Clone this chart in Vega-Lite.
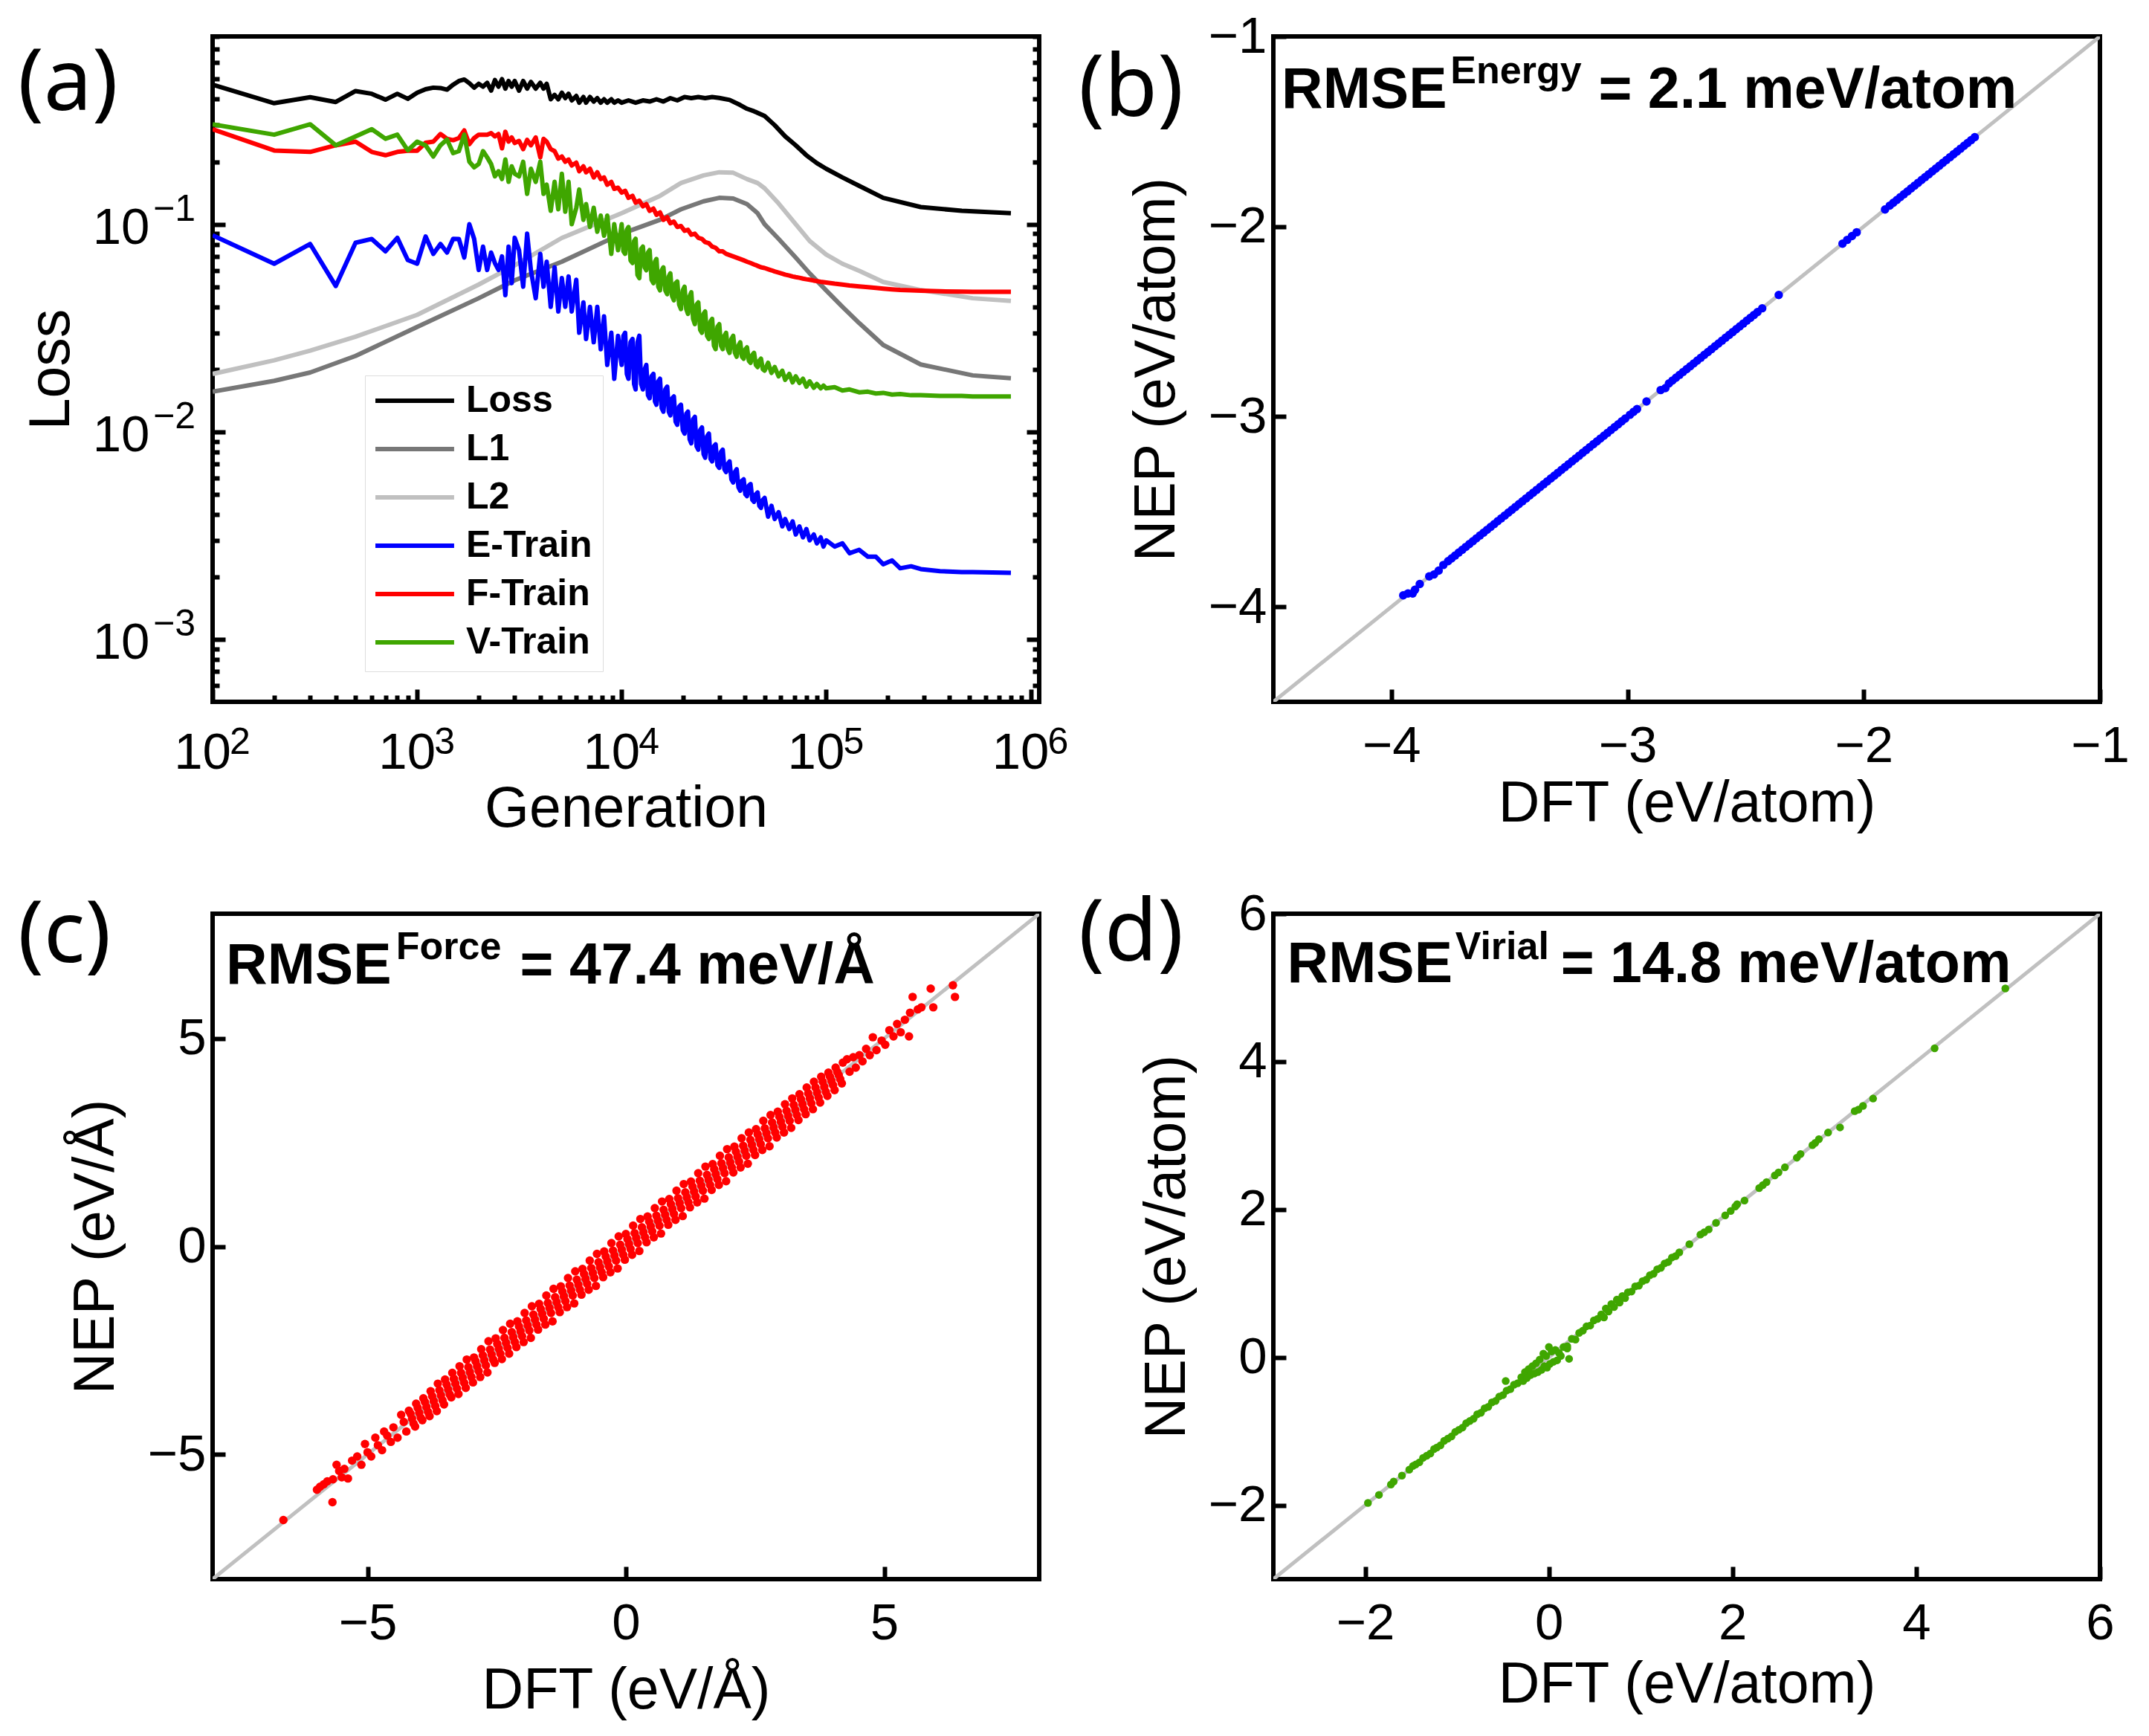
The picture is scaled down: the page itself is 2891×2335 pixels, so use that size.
{
  "$schema": "https://vega.github.io/schema/vega-lite/v6.json",
  "description": "Training loss curves and DFT vs NEP parity plots for energy, force and virial.",
  "background": "white",
  "padding": {"left": 21, "top": 12, "right": 10, "bottom": 10},
  "spacing": 1180,
  "bounds": "flush",
  "config": {
    "font": "Liberation Sans",
    "view": {"stroke": "black", "strokeWidth": 6},
    "axis": {"grid": false, "domain": false, "tickColor": "black", "tickWidth": 6, "tickSize": -17, "labelColor": "black", "labelFontSize": 69, "labelPadding": 26, "labelFlush": false, "labelOverlap": false, "labelBound": false, "titleColor": "black", "titleFontSize": 77, "titleFontWeight": "normal", "titleBaseline": "alphabetic"},
    "title": {"font": "Noto Sans", "fontSize": 116, "fontWeight": "normal", "color": "black", "anchor": "start", "frame": "group", "baseline": "alphabetic", "offset": 0}
  },
  "datasets": {
    "training": [
      {"gen":100,"Loss":0.47,"L1":0.0156,"L2":0.019,"E-Train":0.0884,"F-Train":0.287,"V-Train":0.303},
      {"gen":200,"Loss":0.383,"L1":0.0176,"L2":0.0221,"E-Train":0.0645,"F-Train":0.2265,"V-Train":0.27},
      {"gen":300,"Loss":0.409,"L1":0.0193,"L2":0.0246,"E-Train":0.0803,"F-Train":0.223,"V-Train":0.303},
      {"gen":400,"Loss":0.388,"E-Train":0.0504,"F-Train":0.24,"V-Train":0.24},
      {"gen":500,"Loss":0.438,"L1":0.0232,"L2":0.0287,"E-Train":0.0814,"F-Train":0.25,"V-Train":0.265},
      {"gen":600,"Loss":0.425,"E-Train":0.0849,"F-Train":0.223,"V-Train":0.287},
      {"gen":700,"Loss":0.398,"E-Train":0.074,"F-Train":0.215,"V-Train":0.258},
      {"gen":800,"Loss":0.425,"E-Train":0.086,"F-Train":0.223,"V-Train":0.27},
      {"gen":900,"Loss":0.402,"E-Train":0.0672,"F-Train":0.226,"V-Train":0.227},
      {"gen":1000,"Loss":0.43,"L1":0.032,"L2":0.0366,"E-Train":0.0645,"F-Train":0.226,"V-Train":0.25},
      {"gen":1100,"Loss":0.447,"E-Train":0.0873,"F-Train":0.247,"V-Train":0.24},
      {"gen":1200,"Loss":0.455,"E-Train":0.072,"F-Train":0.25,"V-Train":0.212},
      {"gen":1300,"Loss":0.453,"E-Train":0.0803,"F-Train":0.272,"V-Train":0.24},
      {"gen":1400,"Loss":0.445,"E-Train":0.073,"F-Train":0.258,"V-Train":0.256},
      {"gen":1500,"Loss":0.47,"E-Train":0.085,"F-Train":0.254,"V-Train":0.22},
      {"gen":1600,"Loss":0.49,"E-Train":0.0849,"F-Train":0.26,"V-Train":0.225},
      {"gen":1700,"Loss":0.498,"E-Train":0.0691,"F-Train":0.283,"V-Train":0.27},
      {"gen":1800,"Loss":0.478,"E-Train":0.1,"F-Train":0.243,"V-Train":0.2},
      {"gen":1900,"Loss":0.455,"E-Train":0.085,"F-Train":0.26,"V-Train":0.188},
      {"gen":2000,"Loss":0.475,"L1":0.044,"L2":0.0512,"E-Train":0.0602,"F-Train":0.27,"V-Train":0.195},
      {"gen":2100,"Loss":0.46,"E-Train":0.078,"F-Train":0.27,"V-Train":0.225},
      {"gen":2200,"Loss":0.48,"E-Train":0.0602,"F-Train":0.27,"V-Train":0.21},
      {"gen":2300,"Loss":0.44,"E-Train":0.073,"F-Train":0.275,"V-Train":0.195},
      {"gen":2400,"Loss":0.495,"E-Train":0.065,"F-Train":0.265,"V-Train":0.17},
      {"gen":2500,"Loss":0.46,"E-Train":0.0602,"F-Train":0.272,"V-Train":0.18},
      {"gen":2600,"Loss":0.5,"E-Train":0.07,"F-Train":0.232,"V-Train":0.165},
      {"gen":2700,"Loss":0.45,"E-Train":0.0455,"F-Train":0.279,"V-Train":0.205},
      {"gen":2800,"Loss":0.49,"E-Train":0.078,"F-Train":0.25,"V-Train":0.16},
      {"gen":2900,"Loss":0.46,"E-Train":0.052,"F-Train":0.262,"V-Train":0.19},
      {"gen":3000,"Loss":0.49,"L1":0.0537,"L2":0.0634,"E-Train":0.086,"F-Train":0.246,"V-Train":0.175},
      {"gen":3150,"Loss":0.44,"E-Train":0.075,"F-Train":0.252,"V-Train":0.17},
      {"gen":3300,"Loss":0.49,"E-Train":0.05,"F-Train":0.23,"V-Train":0.2},
      {"gen":3450,"Loss":0.45,"E-Train":0.09,"F-Train":0.255,"V-Train":0.14},
      {"gen":3600,"Loss":0.485,"E-Train":0.06,"F-Train":0.24,"V-Train":0.185},
      {"gen":3800,"Loss":0.45,"E-Train":0.044,"F-Train":0.262,"V-Train":0.16},
      {"gen":4000,"Loss":0.48,"E-Train":0.072,"F-Train":0.21,"V-Train":0.2},
      {"gen":4150,"Loss":0.45,"E-Train":0.05,"F-Train":0.258,"V-Train":0.14},
      {"gen":4300,"Loss":0.475,"E-Train":0.066,"F-Train":0.25,"V-Train":0.155},
      {"gen":4500,"Loss":0.4,"E-Train":0.04,"F-Train":0.23,"V-Train":0.116},
      {"gen":4700,"Loss":0.42,"E-Train":0.062,"F-Train":0.225,"V-Train":0.16},
      {"gen":4900,"Loss":0.4,"E-Train":0.038,"F-Train":0.207,"V-Train":0.118},
      {"gen":5100,"Loss":0.43,"L1":0.066,"L2":0.0859,"E-Train":0.055,"F-Train":0.212,"V-Train":0.175},
      {"gen":5300,"Loss":0.405,"E-Train":0.04,"F-Train":0.2,"V-Train":0.115},
      {"gen":5500,"Loss":0.425,"E-Train":0.056,"F-Train":0.205,"V-Train":0.16},
      {"gen":5700,"Loss":0.395,"E-Train":0.038,"F-Train":0.192,"V-Train":0.1},
      {"gen":6000,"Loss":0.415,"E-Train":0.054,"F-Train":0.198,"V-Train":0.12},
      {"gen":6200,"Loss":0.385,"E-Train":0.03,"F-Train":0.18,"V-Train":0.147},
      {"gen":6500,"Loss":0.41,"E-Train":0.042,"F-Train":0.19,"V-Train":0.105},
      {"gen":6700,"Loss":0.385,"E-Train":0.028,"F-Train":0.178,"V-Train":0.125},
      {"gen":7000,"Loss":0.41,"E-Train":0.04,"F-Train":0.185,"V-Train":0.097},
      {"gen":7300,"Loss":0.39,"E-Train":0.027,"F-Train":0.168,"V-Train":0.12},
      {"gen":7600,"Loss":0.405,"E-Train":0.04,"F-Train":0.178,"V-Train":0.092},
      {"gen":7900,"Loss":0.385,"E-Train":0.025,"F-Train":0.165,"V-Train":0.11},
      {"gen":8200,"Loss":0.4,"E-Train":0.036,"F-Train":0.168,"V-Train":0.088},
      {"gen":8500,"Loss":0.385,"E-Train":0.021,"F-Train":0.155,"V-Train":0.11},
      {"gen":8900,"Loss":0.4,"E-Train":0.03,"F-Train":0.16,"V-Train":0.072},
      {"gen":9200,"Loss":0.385,"E-Train":0.018,"F-Train":0.148,"V-Train":0.1},
      {"gen":9600,"Loss":0.395,"E-Train":0.029,"F-Train":0.15,"V-Train":0.075},
      {"gen":10000,"Loss":0.385,"L1":0.09,"L2":0.113,"E-Train":0.021,"F-Train":0.142,"V-Train":0.1},
      {"gen":10200,"E-Train":0.029,"V-Train":0.074},
      {"gen":10400,"E-Train":0.03,"F-Train":0.145,"V-Train":0.072},
      {"gen":10600,"E-Train":0.019,"V-Train":0.094},
      {"gen":10800,"Loss":0.395,"E-Train":0.018,"F-Train":0.134,"V-Train":0.097},
      {"gen":11050,"E-Train":0.027,"V-Train":0.067},
      {"gen":11300,"E-Train":0.028,"F-Train":0.137,"V-Train":0.065},
      {"gen":11500,"E-Train":0.017,"V-Train":0.083},
      {"gen":11700,"Loss":0.385,"E-Train":0.016,"F-Train":0.127,"V-Train":0.085},
      {"gen":11950,"E-Train":0.027,"V-Train":0.057},
      {"gen":12200,"E-Train":0.029,"F-Train":0.13,"V-Train":0.055},
      {"gen":12450,"E-Train":0.017,"V-Train":0.076},
      {"gen":12700,"Loss":0.395,"E-Train":0.016,"F-Train":0.122,"V-Train":0.078},
      {"gen":12950,"E-Train":0.02,"V-Train":0.062},
      {"gen":13200,"E-Train":0.021,"F-Train":0.125,"V-Train":0.06},
      {"gen":13450,"E-Train":0.015,"V-Train":0.073},
      {"gen":13700,"Loss":0.39,"E-Train":0.0145,"F-Train":0.116,"V-Train":0.075},
      {"gen":14000,"E-Train":0.0185,"V-Train":0.054},
      {"gen":14300,"E-Train":0.019,"F-Train":0.119,"V-Train":0.052},
      {"gen":14550,"E-Train":0.014,"V-Train":0.066},
      {"gen":14800,"Loss":0.4,"E-Train":0.0135,"F-Train":0.111,"V-Train":0.068},
      {"gen":15100,"E-Train":0.0175,"V-Train":0.05},
      {"gen":15400,"L1":0.105,"L2":0.137,"E-Train":0.018,"F-Train":0.114,"V-Train":0.048},
      {"gen":15700,"E-Train":0.013,"V-Train":0.06},
      {"gen":16000,"Loss":0.39,"E-Train":0.0125,"F-Train":0.105,"V-Train":0.062},
      {"gen":16350,"E-Train":0.016,"V-Train":0.048},
      {"gen":16700,"E-Train":0.0165,"F-Train":0.108,"V-Train":0.046},
      {"gen":17000,"E-Train":0.0125,"V-Train":0.056},
      {"gen":17300,"Loss":0.405,"E-Train":0.012,"F-Train":0.101,"V-Train":0.058},
      {"gen":17650,"E-Train":0.0145,"V-Train":0.045},
      {"gen":18000,"E-Train":0.0148,"F-Train":0.103,"V-Train":0.043},
      {"gen":18350,"E-Train":0.0112,"V-Train":0.052},
      {"gen":18700,"Loss":0.395,"E-Train":0.0108,"F-Train":0.097,"V-Train":0.053},
      {"gen":19100,"E-Train":0.0132,"V-Train":0.041},
      {"gen":19500,"L1":0.118,"L2":0.158,"E-Train":0.0135,"F-Train":0.098,"V-Train":0.039},
      {"gen":19900,"E-Train":0.0102,"V-Train":0.048},
      {"gen":20300,"Loss":0.41,"E-Train":0.0098,"F-Train":0.093,"V-Train":0.05},
      {"gen":20700,"E-Train":0.0122,"V-Train":0.039},
      {"gen":21100,"E-Train":0.0125,"F-Train":0.094,"V-Train":0.037},
      {"gen":21500,"E-Train":0.0092,"V-Train":0.045},
      {"gen":21900,"Loss":0.405,"E-Train":0.0088,"F-Train":0.089,"V-Train":0.047},
      {"gen":22350,"E-Train":0.0115,"V-Train":0.035},
      {"gen":22800,"E-Train":0.0118,"F-Train":0.09,"V-Train":0.033},
      {"gen":23250,"E-Train":0.0085,"V-Train":0.041},
      {"gen":23700,"Loss":0.41,"E-Train":0.0082,"F-Train":0.086,"V-Train":0.042},
      {"gen":24200,"E-Train":0.0102,"V-Train":0.031},
      {"gen":24700,"E-Train":0.0105,"F-Train":0.085,"V-Train":0.03},
      {"gen":25150,"L1":0.129,"L2":0.172,"E-Train":0.0078,"V-Train":0.037},
      {"gen":25600,"Loss":0.405,"E-Train":0.0075,"F-Train":0.082,"V-Train":0.038},
      {"gen":26150,"E-Train":0.0095,"V-Train":0.029},
      {"gen":26700,"E-Train":0.0098,"F-Train":0.081,"V-Train":0.028},
      {"gen":27200,"E-Train":0.0074,"V-Train":0.034},
      {"gen":27700,"Loss":0.41,"E-Train":0.0072,"F-Train":0.078,"V-Train":0.035},
      {"gen":28250,"E-Train":0.0085,"V-Train":0.026},
      {"gen":28800,"E-Train":0.0087,"F-Train":0.077,"V-Train":0.025},
      {"gen":29400,"E-Train":0.0069,"V-Train":0.032},
      {"gen":30000,"Loss":0.406,"L1":0.134,"L2":0.178,"E-Train":0.0067,"F-Train":0.074,"V-Train":0.033},
      {"gen":30600,"E-Train":0.008,"V-Train":0.026},
      {"gen":31200,"E-Train":0.0082,"F-Train":0.074,"V-Train":0.025},
      {"gen":31800,"E-Train":0.0066,"V-Train":0.029},
      {"gen":32400,"E-Train":0.0064,"F-Train":0.072,"V-Train":0.03},
      {"gen":33050,"E-Train":0.007,"V-Train":0.025},
      {"gen":33700,"Loss":0.397,"E-Train":0.0072,"F-Train":0.071,"V-Train":0.024},
      {"gen":34400,"E-Train":0.0059,"V-Train":0.028},
      {"gen":35100,"L1":0.133,"L2":0.177,"E-Train":0.0057,"F-Train":0.07,"V-Train":0.029},
      {"gen":35800,"E-Train":0.0064,"V-Train":0.024},
      {"gen":36500,"E-Train":0.0066,"F-Train":0.069,"V-Train":0.023},
      {"gen":37250,"E-Train":0.0054,"V-Train":0.026},
      {"gen":38000,"Loss":0.375,"E-Train":0.0052,"F-Train":0.068,"V-Train":0.027},
      {"gen":38750,"E-Train":0.0058,"V-Train":0.023},
      {"gen":39500,"E-Train":0.0059,"F-Train":0.067,"V-Train":0.0225},
      {"gen":40250,"E-Train":0.005,"V-Train":0.025},
      {"gen":41000,"Loss":0.36,"L1":0.125,"L2":0.165,"E-Train":0.0049,"F-Train":0.066,"V-Train":0.0255},
      {"gen":41850,"E-Train":0.0055,"V-Train":0.022},
      {"gen":42700,"E-Train":0.0056,"F-Train":0.065,"V-Train":0.0215},
      {"gen":43550,"E-Train":0.0047,"V-Train":0.0235},
      {"gen":44400,"Loss":0.35,"E-Train":0.0046,"F-Train":0.064,"V-Train":0.024},
      {"gen":45300,"E-Train":0.005,"V-Train":0.021},
      {"gen":46200,"L1":0.113,"L2":0.158,"E-Train":0.0051,"F-Train":0.063,"V-Train":0.0205},
      {"gen":47100,"E-Train":0.0044,"V-Train":0.022},
      {"gen":48000,"E-Train":0.0043,"F-Train":0.062,"V-Train":0.0225},
      {"gen":49000,"E-Train":0.0047,"V-Train":0.02},
      {"gen":50000,"Loss":0.332,"L1":0.1,"L2":0.149,"E-Train":0.0048,"F-Train":0.0615,"V-Train":0.0197},
      {"gen":52000,"E-Train":0.0039,"F-Train":0.0607,"V-Train":0.0215},
      {"gen":54000,"E-Train":0.0044,"F-Train":0.06,"V-Train":0.0192},
      {"gen":56000,"Loss":0.3,"E-Train":0.0038,"F-Train":0.0592,"V-Train":0.0205},
      {"gen":58500,"L1":0.085,"L2":0.126,"E-Train":0.0041,"F-Train":0.0585,"V-Train":0.0185},
      {"gen":61000,"E-Train":0.0035,"F-Train":0.0578,"V-Train":0.0197},
      {"gen":63000,"Loss":0.265,"E-Train":0.0038,"F-Train":0.0572,"V-Train":0.0178},
      {"gen":66000,"E-Train":0.0034,"F-Train":0.0566,"V-Train":0.019},
      {"gen":68500,"E-Train":0.0037,"F-Train":0.056,"V-Train":0.0173},
      {"gen":71000,"Loss":0.24,"L1":0.069,"L2":0.1,"E-Train":0.0032,"F-Train":0.0556,"V-Train":0.0185},
      {"gen":74000,"E-Train":0.0035,"F-Train":0.0552,"V-Train":0.0172},
      {"gen":77000,"E-Train":0.0031,"F-Train":0.0547,"V-Train":0.018},
      {"gen":80000,"Loss":0.215,"E-Train":0.0034,"F-Train":0.0543,"V-Train":0.0165},
      {"gen":83000,"L1":0.058,"L2":0.083,"E-Train":0.003,"F-Train":0.054,"V-Train":0.0175},
      {"gen":87000,"E-Train":0.0032,"F-Train":0.0535,"V-Train":0.0163},
      {"gen":90000,"Loss":0.197,"E-Train":0.0029,"F-Train":0.0532,"V-Train":0.017},
      {"gen":94000,"E-Train":0.0031,"F-Train":0.0528,"V-Train":0.0162},
      {"gen":97000,"E-Train":0.0028,"F-Train":0.0526,"V-Train":0.0167},
      {"gen":100000,"Loss":0.185,"L1":0.048,"L2":0.0714,"E-Train":0.003,"F-Train":0.0524,"V-Train":0.0162},
      {"gen":110000,"E-Train":0.0028,"F-Train":0.0517,"V-Train":0.0164},
      {"gen":120000,"Loss":0.168,"L1":0.04,"L2":0.0645,"E-Train":0.0029,"F-Train":0.0512,"V-Train":0.0158},
      {"gen":130000,"E-Train":0.0026,"F-Train":0.0507,"V-Train":0.016},
      {"gen":145000,"Loss":0.153,"L1":0.0334,"L2":0.0596,"E-Train":0.0027,"F-Train":0.0502,"V-Train":0.0155},
      {"gen":160000,"E-Train":0.0025,"F-Train":0.0497,"V-Train":0.0156},
      {"gen":175000,"E-Train":0.0025,"F-Train":0.0493,"V-Train":0.0153},
      {"gen":190000,"Loss":0.134,"L1":0.0262,"L2":0.0527,"E-Train":0.0023,"F-Train":0.0489,"V-Train":0.0154},
      {"gen":210000,"E-Train":0.0024,"F-Train":0.0485,"V-Train":0.0151},
      {"gen":230000,"E-Train":0.0022,"F-Train":0.0482,"V-Train":0.0152},
      {"gen":260000,"E-Train":0.00225,"F-Train":0.048,"V-Train":0.015},
      {"gen":290000,"Loss":0.121,"L1":0.0211,"L2":0.0482,"E-Train":0.00218,"F-Train":0.0478,"V-Train":0.015},
      {"gen":360000,"E-Train":0.00213,"F-Train":0.0475,"V-Train":0.0149},
      {"gen":460000,"Loss":0.116,"E-Train":0.00211,"F-Train":0.0473,"V-Train":0.0149},
      {"gen":520000,"L1":0.0187,"L2":0.044,"E-Train":0.00211,"F-Train":0.0472,"V-Train":0.0148},
      {"gen":650000,"E-Train":0.0021,"F-Train":0.0472,"V-Train":0.0148},
      {"gen":800000,"Loss":0.113,"L1":0.0181,"L2":0.0427,"E-Train":0.00209,"F-Train":0.0472,"V-Train":0.0148}
    ],
    "energy": [
      {"x":-3.95,"y":-3.94},{"x":-3.93,"y":-3.93},{"x":-3.91,"y":-3.93},{"x":-3.9,"y":-3.91},{"x":-3.88,"y":-3.88},
      {"x":-3.84,"y":-3.84},{"x":-3.82,"y":-3.83},{"x":-3.8,"y":-3.81},{"x":-3.78,"y":-3.78},
      {"x":-3.76,"y":-3.76},{"x":-3.745,"y":-3.745},{"x":-3.73,"y":-3.73},{"x":-3.715,"y":-3.715},{"x":-3.7,"y":-3.7},{"x":-3.685,"y":-3.685},{"x":-3.67,"y":-3.67},{"x":-3.655,"y":-3.655},{"x":-3.64,"y":-3.64},{"x":-3.625,"y":-3.625},{"x":-3.61,"y":-3.61},{"x":-3.595,"y":-3.595},{"x":-3.58,"y":-3.58},{"x":-3.565,"y":-3.565},{"x":-3.55,"y":-3.55},{"x":-3.535,"y":-3.535},{"x":-3.52,"y":-3.52},{"x":-3.505,"y":-3.505},{"x":-3.49,"y":-3.49},{"x":-3.475,"y":-3.475},{"x":-3.46,"y":-3.46},{"x":-3.445,"y":-3.445},{"x":-3.43,"y":-3.43},{"x":-3.415,"y":-3.415},{"x":-3.4,"y":-3.4},{"x":-3.385,"y":-3.385},{"x":-3.37,"y":-3.37},{"x":-3.355,"y":-3.355},{"x":-3.34,"y":-3.34},{"x":-3.325,"y":-3.325},{"x":-3.31,"y":-3.31},{"x":-3.295,"y":-3.295},{"x":-3.28,"y":-3.28},{"x":-3.265,"y":-3.265},{"x":-3.25,"y":-3.25},{"x":-3.235,"y":-3.235},{"x":-3.22,"y":-3.22},{"x":-3.205,"y":-3.205},{"x":-3.19,"y":-3.19},{"x":-3.175,"y":-3.175},{"x":-3.16,"y":-3.16},{"x":-3.145,"y":-3.145},{"x":-3.13,"y":-3.13},{"x":-3.115,"y":-3.115},{"x":-3.1,"y":-3.1},{"x":-3.085,"y":-3.085},{"x":-3.07,"y":-3.07},{"x":-3.055,"y":-3.055},{"x":-3.04,"y":-3.04},{"x":-3.025,"y":-3.025},{"x":-3.01,"y":-3.01},{"x":-2.99,"y":-2.99},{"x":-2.975,"y":-2.975},{"x":-2.96,"y":-2.96},{"x":-2.92,"y":-2.92},
      {"x":-2.86,"y":-2.86},{"x":-2.84,"y":-2.85},{"x":-2.825,"y":-2.825},{"x":-2.81,"y":-2.81},{"x":-2.795,"y":-2.795},{"x":-2.78,"y":-2.78},{"x":-2.765,"y":-2.765},{"x":-2.75,"y":-2.75},{"x":-2.735,"y":-2.735},{"x":-2.72,"y":-2.72},{"x":-2.705,"y":-2.705},{"x":-2.69,"y":-2.69},{"x":-2.675,"y":-2.675},{"x":-2.66,"y":-2.66},{"x":-2.645,"y":-2.645},{"x":-2.63,"y":-2.63},{"x":-2.615,"y":-2.615},{"x":-2.6,"y":-2.6},{"x":-2.585,"y":-2.585},{"x":-2.57,"y":-2.57},{"x":-2.555,"y":-2.555},{"x":-2.54,"y":-2.54},{"x":-2.525,"y":-2.525},{"x":-2.51,"y":-2.51},{"x":-2.495,"y":-2.495},{"x":-2.48,"y":-2.48},{"x":-2.465,"y":-2.465},{"x":-2.45,"y":-2.45},{"x":-2.43,"y":-2.43},
      {"x":-2.36,"y":-2.36},
      {"x":-2.09,"y":-2.09},{"x":-2.07,"y":-2.07},{"x":-2.05,"y":-2.05},{"x":-2.03,"y":-2.03},
      {"x":-1.91,"y":-1.91},{"x":-1.89,"y":-1.89},{"x":-1.875,"y":-1.875},{"x":-1.86,"y":-1.86},{"x":-1.845,"y":-1.845},{"x":-1.83,"y":-1.83},{"x":-1.815,"y":-1.815},{"x":-1.8,"y":-1.8},{"x":-1.785,"y":-1.785},{"x":-1.77,"y":-1.77},{"x":-1.755,"y":-1.755},{"x":-1.74,"y":-1.74},{"x":-1.725,"y":-1.725},{"x":-1.71,"y":-1.71},{"x":-1.695,"y":-1.695},{"x":-1.68,"y":-1.68},{"x":-1.665,"y":-1.665},{"x":-1.65,"y":-1.65},{"x":-1.635,"y":-1.635},{"x":-1.62,"y":-1.62},{"x":-1.605,"y":-1.605},{"x":-1.59,"y":-1.59},{"x":-1.575,"y":-1.575},{"x":-1.56,"y":-1.56},{"x":-1.545,"y":-1.545},{"x":-1.53,"y":-1.53}
    ],
    "force": [
      {"x":-6.63,"y":-6.58},{"x":-5.98,"y":-5.85},{"x":-5.92,"y":-5.78},{"x":-5.85,"y":-5.72},{"x":-5.78,"y":-5.65},{"x":-5.68,"y":-6.15},{"x":-5.67,"y":-5.6},{"x":-5.6,"y":-5.25},{"x":-5.55,"y":-5.4},{"x":-5.5,"y":-5.55},{"x":-5.45,"y":-5.35},{"x":-5.38,"y":-5.58},{"x":-5.3,"y":-5.15},{"x":-5.2,"y":-5.05},{"x":-5.12,"y":-5.25},{"x":-5.05,"y":-4.75},{"x":-5,"y":-4.95},{"x":-4.93,"y":-5.05},{"x":-4.85,"y":-4.6},{"x":-4.8,"y":-4.78},{"x":-4.72,"y":-4.9},{"x":-4.68,"y":-4.45},{"x":-4.62,"y":-4.55},{"x":-4.55,"y":-4.7},{"x":-4.5,"y":-4.35},{"x":-4.42,"y":-4.6},{"x":-4.35,"y":-4.05},{"x":-4.3,"y":-4.22},{"x":-4.25,"y":-4.45},
      {"x":-4.2,"y":-3.95},{"x":-4.17,"y":-4.02},{"x":-4.14,"y":-4.14},{"x":-4.11,"y":-4.26},{"x":-4.08,"y":-4.33},
      {"x":-4.06,"y":-3.78},{"x":-4.03,"y":-3.88},{"x":-4,"y":-4},{"x":-3.97,"y":-4.12},{"x":-3.94,"y":-4.18},
      {"x":-3.92,"y":-3.65},{"x":-3.89,"y":-3.74},{"x":-3.86,"y":-3.86},{"x":-3.83,"y":-3.98},{"x":-3.8,"y":-4.08},
      {"x":-3.78,"y":-3.48},{"x":-3.75,"y":-3.6},{"x":-3.72,"y":-3.72},{"x":-3.69,"y":-3.84},{"x":-3.66,"y":-3.96},
      {"x":-3.64,"y":-3.3},{"x":-3.61,"y":-3.46},{"x":-3.58,"y":-3.58},{"x":-3.55,"y":-3.7},{"x":-3.52,"y":-3.8},
      {"x":-3.5,"y":-3.2},{"x":-3.47,"y":-3.32},{"x":-3.44,"y":-3.44},{"x":-3.41,"y":-3.56},{"x":-3.38,"y":-3.63},
      {"x":-3.36,"y":-3.04},{"x":-3.33,"y":-3.18},{"x":-3.3,"y":-3.3},{"x":-3.27,"y":-3.42},{"x":-3.24,"y":-3.55},
      {"x":-3.22,"y":-2.88},{"x":-3.19,"y":-3.04},{"x":-3.16,"y":-3.16},{"x":-3.13,"y":-3.28},{"x":-3.1,"y":-3.4},
      {"x":-3.08,"y":-2.72},{"x":-3.05,"y":-2.9},{"x":-3.02,"y":-3.02},{"x":-2.99,"y":-3.14},{"x":-2.96,"y":-3.27},
      {"x":-2.94,"y":-2.67},{"x":-2.91,"y":-2.76},{"x":-2.88,"y":-2.88},{"x":-2.85,"y":-3},{"x":-2.82,"y":-3.14},
      {"x":-2.8,"y":-2.47},{"x":-2.77,"y":-2.62},{"x":-2.74,"y":-2.74},{"x":-2.71,"y":-2.86},{"x":-2.68,"y":-3.03},
      {"x":-2.66,"y":-2.28},{"x":-2.63,"y":-2.48},{"x":-2.6,"y":-2.6},{"x":-2.57,"y":-2.72},{"x":-2.54,"y":-2.8},
      {"x":-2.52,"y":-2.21},{"x":-2.49,"y":-2.34},{"x":-2.46,"y":-2.46},{"x":-2.43,"y":-2.58},{"x":-2.4,"y":-2.71},
      {"x":-2.38,"y":-2.01},{"x":-2.35,"y":-2.2},{"x":-2.32,"y":-2.32},{"x":-2.29,"y":-2.44},{"x":-2.26,"y":-2.58},
      {"x":-2.24,"y":-1.86},{"x":-2.21,"y":-2.06},{"x":-2.18,"y":-2.18},{"x":-2.15,"y":-2.3},{"x":-2.12,"y":-2.42},
      {"x":-2.1,"y":-1.8},{"x":-2.07,"y":-1.92},{"x":-2.04,"y":-2.04},{"x":-2.01,"y":-2.16},{"x":-1.98,"y":-2.3},
      {"x":-1.96,"y":-1.6},{"x":-1.93,"y":-1.78},{"x":-1.9,"y":-1.9},{"x":-1.87,"y":-2.02},{"x":-1.84,"y":-2.2},
      {"x":-1.82,"y":-1.44},{"x":-1.79,"y":-1.64},{"x":-1.76,"y":-1.76},{"x":-1.73,"y":-1.88},{"x":-1.7,"y":-2},
      {"x":-1.68,"y":-1.38},{"x":-1.65,"y":-1.5},{"x":-1.62,"y":-1.62},{"x":-1.59,"y":-1.74},{"x":-1.56,"y":-1.88},
      {"x":-1.54,"y":-1.18},{"x":-1.51,"y":-1.36},{"x":-1.48,"y":-1.48},{"x":-1.45,"y":-1.6},{"x":-1.42,"y":-1.8},
      {"x":-1.4,"y":-1.02},{"x":-1.37,"y":-1.22},{"x":-1.34,"y":-1.34},{"x":-1.31,"y":-1.46},{"x":-1.28,"y":-1.58},
      {"x":-1.26,"y":-0.96},{"x":-1.23,"y":-1.08},{"x":-1.2,"y":-1.2},{"x":-1.17,"y":-1.32},{"x":-1.14,"y":-1.46},
      {"x":-1.12,"y":-0.76},{"x":-1.09,"y":-0.94},{"x":-1.06,"y":-1.06},{"x":-1.03,"y":-1.18},{"x":-1,"y":-1.37},
      {"x":-0.98,"y":-0.6},{"x":-0.95,"y":-0.8},{"x":-0.92,"y":-0.92},{"x":-0.89,"y":-1.04},{"x":-0.86,"y":-1.16},
      {"x":-0.84,"y":-0.54},{"x":-0.81,"y":-0.66},{"x":-0.78,"y":-0.78},{"x":-0.75,"y":-0.9},{"x":-0.72,"y":-1.04},
      {"x":-0.7,"y":-0.34},{"x":-0.67,"y":-0.52},{"x":-0.64,"y":-0.64},{"x":-0.61,"y":-0.76},{"x":-0.58,"y":-0.95},
      {"x":-0.56,"y":-0.18},{"x":-0.53,"y":-0.38},{"x":-0.5,"y":-0.5},{"x":-0.47,"y":-0.62},{"x":-0.44,"y":-0.74},
      {"x":-0.42,"y":-0.12},{"x":-0.39,"y":-0.24},{"x":-0.36,"y":-0.36},{"x":-0.33,"y":-0.48},{"x":-0.3,"y":-0.62},
      {"x":-0.28,"y":0.08},{"x":-0.25,"y":-0.1},{"x":-0.22,"y":-0.22},{"x":-0.19,"y":-0.34},{"x":-0.16,"y":-0.53},
      {"x":-0.14,"y":0.24},{"x":-0.11,"y":0.04},{"x":-0.08,"y":-0.08},{"x":-0.05,"y":-0.2},{"x":-0.02,"y":-0.32},
      {"x":0,"y":0.3},{"x":0.03,"y":0.18},{"x":0.06,"y":0.06},{"x":0.09,"y":-0.06},{"x":0.12,"y":-0.2},
      {"x":0.14,"y":0.5},{"x":0.17,"y":0.32},{"x":0.2,"y":0.2},{"x":0.23,"y":0.08},{"x":0.26,"y":-0.11},
      {"x":0.28,"y":0.66},{"x":0.31,"y":0.46},{"x":0.34,"y":0.34},{"x":0.37,"y":0.22},{"x":0.4,"y":0.1},
      {"x":0.42,"y":0.72},{"x":0.45,"y":0.6},{"x":0.48,"y":0.48},{"x":0.51,"y":0.36},{"x":0.54,"y":0.22},
      {"x":0.56,"y":0.92},{"x":0.59,"y":0.74},{"x":0.62,"y":0.62},{"x":0.65,"y":0.5},{"x":0.68,"y":0.31},
      {"x":0.7,"y":1.08},{"x":0.73,"y":0.88},{"x":0.76,"y":0.76},{"x":0.79,"y":0.64},{"x":0.82,"y":0.52},
      {"x":0.84,"y":1.14},{"x":0.87,"y":1.02},{"x":0.9,"y":0.9},{"x":0.93,"y":0.78},{"x":0.96,"y":0.64},
      {"x":0.98,"y":1.34},{"x":1.01,"y":1.16},{"x":1.04,"y":1.04},{"x":1.07,"y":0.92},{"x":1.1,"y":0.73},
      {"x":1.12,"y":1.5},{"x":1.15,"y":1.3},{"x":1.18,"y":1.18},{"x":1.21,"y":1.06},{"x":1.24,"y":0.94},
      {"x":1.26,"y":1.56},{"x":1.29,"y":1.44},{"x":1.32,"y":1.32},{"x":1.35,"y":1.2},{"x":1.38,"y":1.06},
      {"x":1.4,"y":1.76},{"x":1.43,"y":1.58},{"x":1.46,"y":1.46},{"x":1.49,"y":1.34},{"x":1.52,"y":1.15},
      {"x":1.54,"y":1.92},{"x":1.57,"y":1.72},{"x":1.6,"y":1.6},{"x":1.63,"y":1.48},{"x":1.66,"y":1.36},
      {"x":1.68,"y":1.98},{"x":1.71,"y":1.86},{"x":1.74,"y":1.74},{"x":1.77,"y":1.62},{"x":1.8,"y":1.48},
      {"x":1.82,"y":2.18},{"x":1.85,"y":2},{"x":1.88,"y":1.88},{"x":1.91,"y":1.76},{"x":1.94,"y":1.57},
      {"x":1.96,"y":2.34},{"x":1.99,"y":2.14},{"x":2.02,"y":2.02},{"x":2.05,"y":1.9},{"x":2.08,"y":1.78},
      {"x":2.1,"y":2.4},{"x":2.13,"y":2.28},{"x":2.16,"y":2.16},{"x":2.19,"y":2.04},{"x":2.22,"y":1.9},
      {"x":2.24,"y":2.6},{"x":2.27,"y":2.42},{"x":2.3,"y":2.3},{"x":2.33,"y":2.18},{"x":2.36,"y":1.99},
      {"x":2.38,"y":2.74},{"x":2.41,"y":2.56},{"x":2.44,"y":2.44},{"x":2.47,"y":2.32},{"x":2.5,"y":2.2},
      {"x":2.52,"y":2.82},{"x":2.55,"y":2.7},{"x":2.58,"y":2.58},{"x":2.61,"y":2.46},{"x":2.64,"y":2.32},
      {"x":2.66,"y":3.02},{"x":2.69,"y":2.84},{"x":2.72,"y":2.72},{"x":2.75,"y":2.6},{"x":2.78,"y":2.41},
      {"x":2.8,"y":3.16},{"x":2.83,"y":2.98},{"x":2.86,"y":2.86},{"x":2.89,"y":2.74},{"x":2.92,"y":2.62},
      {"x":2.94,"y":3.24},{"x":2.97,"y":3.12},{"x":3,"y":3},{"x":3.03,"y":2.88},{"x":3.06,"y":2.74},
      {"x":3.08,"y":3.42},{"x":3.11,"y":3.26},{"x":3.14,"y":3.14},{"x":3.17,"y":3.02},{"x":3.2,"y":2.85},
      {"x":3.22,"y":3.56},{"x":3.25,"y":3.4},{"x":3.28,"y":3.28},{"x":3.31,"y":3.16},{"x":3.34,"y":3.04},
      {"x":3.36,"y":3.66},{"x":3.39,"y":3.54},{"x":3.42,"y":3.42},{"x":3.45,"y":3.3},{"x":3.48,"y":3.18},
      {"x":3.5,"y":3.82},{"x":3.53,"y":3.68},{"x":3.56,"y":3.56},{"x":3.59,"y":3.44},{"x":3.62,"y":3.3},
      {"x":3.64,"y":3.96},{"x":3.67,"y":3.82},{"x":3.7,"y":3.7},{"x":3.73,"y":3.58},{"x":3.76,"y":3.46},
      {"x":3.78,"y":4.08},{"x":3.81,"y":3.96},{"x":3.84,"y":3.84},{"x":3.87,"y":3.72},{"x":3.9,"y":3.62},
      {"x":3.92,"y":4.18},{"x":3.95,"y":4.08},{"x":3.98,"y":3.98},{"x":4.01,"y":3.88},{"x":4.04,"y":3.76},
      {"x":4.06,"y":4.3},{"x":4.09,"y":4.2},{"x":4.12,"y":4.12},{"x":4.15,"y":4.02},{"x":4.18,"y":3.92},
      {"x":4.2,"y":4.42},{"x":4.28,"y":4.5},{"x":4.33,"y":4.2},{"x":4.4,"y":4.55},{"x":4.45,"y":4.3},{"x":4.52,"y":4.6},{"x":4.58,"y":4.45},{"x":4.65,"y":4.75},{"x":4.72,"y":4.6},{"x":4.78,"y":5.03},{"x":4.85,"y":4.72},{"x":4.95,"y":4.95},{"x":5.02,"y":4.85},{"x":5.1,"y":5.2},{"x":5.18,"y":5.05},{"x":5.25,"y":5.35},{"x":5.32,"y":5.15},{"x":5.4,"y":5.45},{"x":5.48,"y":5.05},{"x":5.5,"y":5.62},{"x":5.55,"y":6},{"x":5.65,"y":5.7},{"x":5.72,"y":5.75},{"x":5.9,"y":6.2},{"x":5.95,"y":5.75},{"x":6.33,"y":6.28},{"x":6.37,"y":6}
    ],
    "virial": [
      {"x":-1.97,"y":-1.97},{"x":-1.85,"y":-1.86},{"x":-1.72,"y":-1.72},{"x":-1.69,"y":-1.68},{"x":-1.6,"y":-1.6},{"x":-1.52,"y":-1.52},{"x":-1.48,"y":-1.47},{"x":-1.45,"y":-1.45},{"x":-1.41,"y":-1.42},{"x":-1.37,"y":-1.36},{"x":-1.33,"y":-1.33},{"x":-1.29,"y":-1.3},{"x":-1.25,"y":-1.24},{"x":-1.22,"y":-1.22},{"x":-1.18,"y":-1.19},{"x":-1.14,"y":-1.13},{"x":-1.1,"y":-1.1},{"x":-1.06,"y":-1.07},{"x":-1.02,"y":-1.01},{"x":-0.98,"y":-0.98},{"x":-0.94,"y":-0.95},{"x":-0.9,"y":-0.89},{"x":-0.86,"y":-0.86},{"x":-0.82,"y":-0.83},{"x":-0.78,"y":-0.77},{"x":-0.74,"y":-0.75},{"x":-0.7,"y":-0.69},{"x":-0.66,"y":-0.67},{"x":-0.62,"y":-0.61},{"x":-0.58,"y":-0.59},{"x":-0.54,"y":-0.53},{"x":-0.5,"y":-0.51},{"x":-0.46,"y":-0.45},{"x":-0.47,"y":-0.32},{"x":-0.42,"y":-0.43},{"x":-0.38,"y":-0.37},{"x":-0.34,"y":-0.35},{"x":-0.3,"y":-0.27},{"x":-0.28,"y":-0.32},{"x":-0.26,"y":-0.2},{"x":-0.24,"y":-0.28},{"x":-0.22,"y":-0.16},{"x":-0.2,"y":-0.24},{"x":-0.18,"y":-0.12},{"x":-0.16,"y":-0.22},{"x":-0.14,"y":-0.08},{"x":-0.12,"y":-0.2},{"x":-0.1,"y":-0.03},{"x":-0.08,"y":-0.17},{"x":-0.06,"y":0.05},{"x":-0.05,"y":-0.12},{"x":-0.03,"y":0.02},{"x":-0.02,"y":-0.14},{"x":0,"y":0.14},{"x":0.01,"y":-0.09},{"x":0.03,"y":0.08},{"x":0.05,"y":-0.06},{"x":0.07,"y":0.1},{"x":0.09,"y":-0.04},{"x":0.11,"y":0.06},{"x":0.13,"y":0.02},{"x":0.16,"y":0.14},{"x":0.2,"y":0.12},{"x":0.2,"y":0.15},{"x":0.22,"y":-0.02},{"x":0.25,"y":0.25},{"x":0.29,"y":0.24},{"x":0.33,"y":0.33},{"x":0.37,"y":0.36},{"x":0.41,"y":0.42},{"x":0.45,"y":0.43},{"x":0.49,"y":0.5},{"x":0.53,"y":0.52},{"x":0.57,"y":0.58},{"x":0.6,"y":0.54},{"x":0.62,"y":0.66},{"x":0.65,"y":0.62},{"x":0.68,"y":0.72},{"x":0.71,"y":0.68},{"x":0.74,"y":0.78},{"x":0.77,"y":0.74},{"x":0.8,"y":0.83},{"x":0.83,"y":0.8},{"x":0.86,"y":0.88},{"x":0.9,"y":0.89},{"x":0.94,"y":0.96},{"x":0.98,"y":0.97},{"x":1.02,"y":1.03},{"x":1.06,"y":1.05},{"x":1.1,"y":1.11},{"x":1.14,"y":1.13},{"x":1.18,"y":1.19},{"x":1.22,"y":1.21},{"x":1.26,"y":1.27},{"x":1.3,"y":1.29},{"x":1.34,"y":1.35},{"x":1.38,"y":1.37},{"x":1.42,"y":1.42},
      {"x":1.53,"y":1.53},{"x":1.65,"y":1.66},{"x":1.69,"y":1.69},{"x":1.74,"y":1.73},{"x":1.82,"y":1.82},{"x":1.92,"y":1.92},{"x":1.98,"y":1.98},{"x":2.03,"y":2.04},{"x":2.05,"y":2.07},{"x":2.13,"y":2.12},{"x":2.29,"y":2.29},{"x":2.33,"y":2.33},{"x":2.37,"y":2.37},{"x":2.46,"y":2.46},{"x":2.5,"y":2.5},{"x":2.57,"y":2.57},{"x":2.7,"y":2.7},{"x":2.74,"y":2.75},{"x":2.87,"y":2.87},{"x":2.9,"y":2.9},{"x":2.94,"y":2.95},{"x":3.04,"y":3.04},{"x":3.17,"y":3.11},{"x":3.33,"y":3.33},{"x":3.37,"y":3.35},{"x":3.42,"y":3.4},{"x":3.53,"y":3.5},{"x":4.2,"y":4.18},{"x":4.97,"y":4.99}
    ],
    "diag-b": [{"x":-4.5,"y":-4.5},{"x":-1,"y":-1}],
    "diag-c": [{"x":-8,"y":-8},{"x":8,"y":8}],
    "diag-d": [{"x":-3,"y":-3},{"x":6,"y":6}],
    "notes-b": [{"x":-4.465,"y":-1.375,"label":"RMSE"},{"x":-3.123,"y":-1.375,"label":"= 2.1 meV/atom"}],
    "notes-c": [{"x":-7.74,"y":6.32,"label":"RMSE"},{"x":-2.05,"y":6.32,"label":"= 47.4 meV/Å"}],
    "notes-d": [{"x":-2.85,"y":5.07,"label":"RMSE"},{"x":0.13,"y":5.07,"label":"= 14.8 meV/atom"}],
    "x-exponents": [{"gen":100,"loss":0.0005,"exp":"2"},{"gen":1000,"loss":0.0005,"exp":"3"},{"gen":10000,"loss":0.0005,"exp":"4"},{"gen":100000,"loss":0.0005,"exp":"5"},{"gen":1000000,"loss":0.0005,"exp":"6"}],
    "y-exponents": [{"gen":100,"loss":0.1,"exp":"−1"},{"gen":100,"loss":0.01,"exp":"−2"},{"gen":100,"loss":0.001,"exp":"−3"}],
    "axis-stub": [{"gen":1000,"loss":0.01}]
  },
  "vconcat": [
    {
      "hconcat": [
        {
          "width": 1112, "height": 895,
          "title": {"text": "(a)", "dx": -262, "dy": 130},
          "resolve": {"axis": {"x": "independent", "y": "independent"}},
          "layer": [
            {
              "data": {"name": "training"},
              "transform": [
                {"fold": ["Loss", "L1", "L2", "E-Train", "F-Train", "V-Train"], "as": ["series", "loss"]},
                {"filter": "isValid(datum.loss)"}
              ],
              "mark": {"type": "line", "strokeWidth": 6, "strokeJoin": "round", "clip": true},
              "encoding": {
                "x": {"field": "gen", "type": "quantitative", "scale": {"type": "log", "domain": [100, 1100000]}, "axis": {"orient": "bottom", "values": [100, 1000, 10000, 100000, 1000000], "labelExpr": "'10'", "labelPadding": 51, "labelOffset": -14, "title": "Generation", "titleY": 167}},
                "y": {"field": "loss", "type": "quantitative", "scale": {"type": "log", "domain": [0.0005, 0.803]}, "axis": {"orient": "left", "values": [0.001, 0.01, 0.1], "labelExpr": "'10'", "labelPadding": 102, "labelOffset": 5, "title": "Loss", "titleX": -194}},
                "color": {
                  "field": "series", "type": "nominal", "sort": ["Loss", "L1", "L2", "E-Train", "F-Train", "V-Train"],
                  "scale": {"domain": ["Loss", "L1", "L2", "E-Train", "F-Train", "V-Train"], "range": ["#000000", "#777777", "#c0c0c0", "#0000ff", "#ff0000", "#3fa600"]},
                  "legend": {"orient": "none", "legendX": 205, "legendY": 456, "title": null, "symbolType": "stroke", "symbolSize": 14600, "symbolStrokeWidth": 6, "symbolOffset": -18, "clipHeight": 40, "rowPadding": 15, "labelFontSize": 50, "labelFontWeight": "bold", "labelColor": "black", "labelOffset": 13, "labelLimit": 400, "strokeColor": "#dddddd", "fillColor": "white", "padding": 14}
                }
              }
            },
            {
              "data": {"name": "axis-stub"},
              "mark": {"type": "point", "opacity": 0},
              "encoding": {
                "x": {"field": "gen", "type": "quantitative", "scale": {"type": "log", "domain": [100, 1100000]}, "axis": {"orient": "bottom", "values": [200,300,400,500,600,700,800,900,2000,3000,4000,5000,6000,7000,8000,9000,20000,30000,40000,50000,60000,70000,80000,90000,200000,300000,400000,500000,600000,700000,800000,900000], "tickSize": -9, "labels": false, "title": null}},
                "y": {"field": "loss", "type": "quantitative", "scale": {"type": "log", "domain": [0.0005, 0.803]}, "axis": {"orient": "left", "values": [0.0006,0.0007,0.0008,0.0009,0.002,0.003,0.004,0.005,0.006,0.007,0.008,0.009,0.02,0.03,0.04,0.05,0.06,0.07,0.08,0.09,0.2,0.3,0.4,0.5,0.6,0.7,0.8], "tickSize": -9, "labels": false, "title": null}}
              }
            },
            {
              "data": {"name": "axis-stub"},
              "mark": {"type": "point", "opacity": 0},
              "encoding": {
                "x": {"field": "gen", "type": "quantitative", "scale": {"type": "log", "domain": [100, 1100000]}, "axis": null},
                "y": {"field": "loss", "type": "quantitative", "scale": {"type": "log", "domain": [0.0005, 0.803]}, "axis": {"orient": "right", "values": [0.001, 0.01, 0.1], "labels": false, "title": null}}
              }
            },
            {
              "data": {"name": "axis-stub"},
              "mark": {"type": "point", "opacity": 0},
              "encoding": {
                "x": {"field": "gen", "type": "quantitative", "scale": {"type": "log", "domain": [100, 1100000]}, "axis": null},
                "y": {"field": "loss", "type": "quantitative", "scale": {"type": "log", "domain": [0.0005, 0.803]}, "axis": {"orient": "right", "values": [0.0006,0.0007,0.0008,0.0009,0.002,0.003,0.004,0.005,0.006,0.007,0.008,0.009,0.02,0.03,0.04,0.05,0.06,0.07,0.08,0.09,0.2,0.3,0.4,0.5,0.6,0.7,0.8], "tickSize": -9, "labels": false, "title": null}}
              }
            },
            {
              "data": {"name": "x-exponents"},
              "mark": {"type": "text", "fontSize": 50, "align": "left", "baseline": "alphabetic", "dx": 23, "dy": 70, "color": "black"},
              "encoding": {
                "x": {"field": "gen", "type": "quantitative", "scale": {"type": "log", "domain": [100, 1100000]}, "axis": null},
                "y": {"field": "loss", "type": "quantitative", "scale": {"type": "log", "domain": [0.0005, 0.803]}, "axis": null},
                "text": {"field": "exp"}
              }
            },
            {
              "data": {"name": "y-exponents"},
              "mark": {"type": "text", "fontSize": 50, "align": "right", "baseline": "alphabetic", "dx": -23, "dy": -5, "color": "black"},
              "encoding": {
                "x": {"field": "gen", "type": "quantitative", "scale": {"type": "log", "domain": [100, 1100000]}, "axis": null},
                "y": {"field": "loss", "type": "quantitative", "scale": {"type": "log", "domain": [0.0005, 0.803]}, "axis": null},
                "text": {"field": "exp"}
              }
            }
          ]
        },
        {
          "width": 1112, "height": 895,
          "title": {"text": "(b)", "dx": -262, "dy": 169},
          "layer": [
            {
              "data": {"name": "diag-b"},
              "mark": {"type": "line", "color": "#c0c0c0", "strokeWidth": 5, "clip": true},
              "encoding": {
                "x": {"field": "x", "type": "quantitative", "scale": {"domain": [-4.5, -1]}, "axis": {"orient": "bottom", "values": [-4, -3, -2, -1], "format": "d", "labelPadding": 42, "title": "DFT (eV/atom)", "titleY": 160}},
                "y": {"field": "y", "type": "quantitative", "scale": {"domain": [-4.5, -1]}, "axis": {"orient": "left", "values": [-4, -3, -2, -1], "format": "d", "title": "NEP (eV/atom)", "titleX": -134}}
              }
            },
            {
              "data": {"name": "energy"},
              "mark": {"type": "circle", "color": "#0000ff", "size": 130, "opacity": 1},
              "encoding": {
                "x": {"field": "x", "type": "quantitative", "scale": {"domain": [-4.5, -1]}},
                "y": {"field": "y", "type": "quantitative", "scale": {"domain": [-4.5, -1]}}
              }
            },
            {
              "data": {"name": "notes-b"},
              "mark": {"type": "text", "fontSize": 77, "fontWeight": "bold", "align": "left", "baseline": "alphabetic", "color": "black"},
              "encoding": {"x": {"field": "x", "type": "quantitative", "scale": {"domain": [-4.5, -1]}}, "y": {"field": "y", "type": "quantitative", "scale": {"domain": [-4.5, -1]}}, "text": {"field": "label"}}
            },
            {
              "data": {"values": [{"x": -3.75, "y": -1.245, "label": "Energy"}]},
              "mark": {"type": "text", "fontSize": 52, "fontWeight": "bold", "align": "left", "baseline": "alphabetic", "color": "black"},
              "encoding": {"x": {"field": "x", "type": "quantitative", "scale": {"domain": [-4.5, -1]}}, "y": {"field": "y", "type": "quantitative", "scale": {"domain": [-4.5, -1]}}, "text": {"field": "label"}}
            }
          ]
        }
      ],
      "spacing": 315,
      "bounds": "flush"
    },
    {
      "hconcat": [
        {
          "width": 1112, "height": 895,
          "title": {"text": "(c)", "dx": -262, "dy": 93},
          "layer": [
            {
              "data": {"name": "diag-c"},
              "mark": {"type": "line", "color": "#c0c0c0", "strokeWidth": 5, "clip": true},
              "encoding": {
                "x": {"field": "x", "type": "quantitative", "scale": {"domain": [-8, 8]}, "axis": {"orient": "bottom", "values": [-5, 0, 5], "format": "d", "labelPadding": 42, "title": "DFT (eV/Å)", "titleY": 173}},
                "y": {"field": "y", "type": "quantitative", "scale": {"domain": [-8, 8]}, "axis": {"orient": "left", "values": [-5, 0, 5], "format": "d", "title": "NEP (eV/Å)", "titleX": -134}}
              }
            },
            {
              "data": {"name": "force"},
              "mark": {"type": "circle", "color": "#ff0000", "size": 130, "opacity": 1},
              "encoding": {
                "x": {"field": "x", "type": "quantitative", "scale": {"domain": [-8, 8]}},
                "y": {"field": "y", "type": "quantitative", "scale": {"domain": [-8, 8]}}
              }
            },
            {
              "data": {"name": "notes-c"},
              "mark": {"type": "text", "fontSize": 77, "fontWeight": "bold", "align": "left", "baseline": "alphabetic", "color": "black"},
              "encoding": {"x": {"field": "x", "type": "quantitative", "scale": {"domain": [-8, 8]}}, "y": {"field": "y", "type": "quantitative", "scale": {"domain": [-8, 8]}}, "text": {"field": "label"}}
            },
            {
              "data": {"values": [{"x": -4.45, "y": 6.91, "label": "Force"}]},
              "mark": {"type": "text", "fontSize": 52, "fontWeight": "bold", "align": "left", "baseline": "alphabetic", "color": "black"},
              "encoding": {"x": {"field": "x", "type": "quantitative", "scale": {"domain": [-8, 8]}}, "y": {"field": "y", "type": "quantitative", "scale": {"domain": [-8, 8]}}, "text": {"field": "label"}}
            }
          ]
        },
        {
          "width": 1112, "height": 895,
          "title": {"text": "(d)", "dx": -262, "dy": 125},
          "layer": [
            {
              "data": {"name": "diag-d"},
              "mark": {"type": "line", "color": "#c0c0c0", "strokeWidth": 5, "clip": true},
              "encoding": {
                "x": {"field": "x", "type": "quantitative", "scale": {"domain": [-3, 6]}, "axis": {"orient": "bottom", "values": [-2, 0, 2, 4, 6], "format": "d", "labelPadding": 42, "title": "DFT (eV/atom)", "titleY": 165}},
                "y": {"field": "y", "type": "quantitative", "scale": {"domain": [-3, 6]}, "axis": {"orient": "left", "values": [-2, 0, 2, 4, 6], "format": "d", "title": "NEP (eV/atom)", "titleX": -120}}
              }
            },
            {
              "data": {"name": "virial"},
              "mark": {"type": "circle", "color": "#3fa600", "size": 110, "opacity": 1},
              "encoding": {
                "x": {"field": "x", "type": "quantitative", "scale": {"domain": [-3, 6]}},
                "y": {"field": "y", "type": "quantitative", "scale": {"domain": [-3, 6]}}
              }
            },
            {
              "data": {"name": "notes-d"},
              "mark": {"type": "text", "fontSize": 77, "fontWeight": "bold", "align": "left", "baseline": "alphabetic", "color": "black"},
              "encoding": {"x": {"field": "x", "type": "quantitative", "scale": {"domain": [-3, 6]}}, "y": {"field": "y", "type": "quantitative", "scale": {"domain": [-3, 6]}}, "text": {"field": "label"}}
            },
            {
              "data": {"values": [{"x": -1.02, "y": 5.39, "label": "Virial"}]},
              "mark": {"type": "text", "fontSize": 52, "fontWeight": "bold", "align": "left", "baseline": "alphabetic", "color": "black"},
              "encoding": {"x": {"field": "x", "type": "quantitative", "scale": {"domain": [-3, 6]}}, "y": {"field": "y", "type": "quantitative", "scale": {"domain": [-3, 6]}}, "text": {"field": "label"}}
            }
          ]
        }
      ],
      "spacing": 315,
      "bounds": "flush"
    }
  ]
}
